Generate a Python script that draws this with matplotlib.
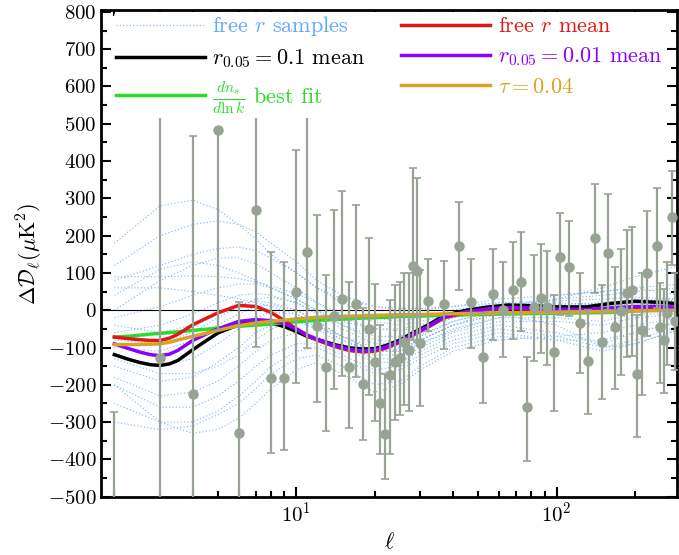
import numpy as np
import matplotlib
matplotlib.use("Agg")
import matplotlib.pyplot as plt
from matplotlib.ticker import MultipleLocator

plt.rcParams['font.family'] = 'serif'
plt.rcParams['font.serif'] = ['cmr10']
plt.rcParams['mathtext.fontset'] = 'cm'
plt.rcParams['axes.formatter.use_mathtext'] = True

# binned data points: ell, value, upper end of bar, lower end of bar
ell_data = [2, 3, 4, 5, 6, 7, 8, 9, 10, 11, 12, 13, 14, 15, 16, 17, 18, 19, 20,
            21, 22, 23, 24, 25, 26, 27, 28, 29, 30, 32, 37, 42, 47, 52, 57, 62,
            68, 73, 77, 82, 87, 92, 98, 103, 112, 123, 132, 141, 150, 158, 168,
            177, 187, 195, 203, 213, 222, 242, 250, 258, 266, 278, 286]
dl_data = [-700, -127, -224, 482, -329, 270, -181, -181, 50, 157, -43, -153, -15,
           31, -151, 17, -197, -50, -140, -249, -331, -174, -139, -128, -84, -106,
           119, 104, -88, 24, 17, 171, 22, -126, 43, 1, 53, 77, -260, 9, 34, 9,
           -113, 143, 116, -33, -135, 193, -84, 153, -46, -3, 46, 55, -170, -54,
           101, 171, -46, -79, -8, 249, -30]
dl_top = [-272, 650, 468, 482, 23, 700, 157, 130, 430, 600, 256, 95, 269, 321, 77,
          283, 7, 194, 71, -39, -170, 28, 68, 77, 101, 100, 381, 355, 109, 137,
          131, 290, 137, -8, 165, 128, 182, 209, -125, 149, 178, 158, 42, 261,
          238, 101, 1, 339, 68, 312, 116, 165, 216, 222, -12, 100, 267, 327, 73,
          57, 130, 372, 100]
dl_bot = [-1130, -770, -916, -52, -681, -98, -382, -374, -195, -101, -247, -325,
          -211, -176, -316, -180, -347, -228, -298, -385, -453, -385, -294, -280,
          -253, -271, -79, -84, -256, -57, -104, 55, -101, -249, -81, -125, -77,
          -57, -403, -137, -115, -146, -271, -12, -15, -167, -278, 46, -238, 0,
          -211, -173, -125, -122, -340, -226, -70, 6, -195, -222, -146, 120, -160]

# model curves
ell_model = [2, 2.25, 2.5, 2.75, 3, 3.25, 3.5, 4, 4.5, 5, 6, 7, 8, 9, 10, 11, 12,
             14, 16, 18, 20, 22, 25, 28, 32, 37, 45, 55, 65, 80, 100, 130, 160,
             200, 250, 300]
free_r_mean = [-72, -76, -79, -81, -81, -75, -65, -39, -22, -7, 13, 10, -6, -28,
               -50, -68, -80, -97, -108, -112, -110, -102, -86, -67, -46, -20, -6,
               2, 5, 3, 0, -1, 4, 8, 7, 5]
r01_mean = [-119, -131, -140, -146, -148, -144, -135, -106, -82, -61, -39, -30,
            -34, -44, -57, -70, -78, -92, -101, -104, -103, -95, -80, -61, -40,
            -14, 0, 9, 14, 12, 9, 9, 18, 24, 21, 17]
r001_mean = [-90, -102, -112, -119, -122, -118, -108, -81, -64, -50, -30, -25,
             -28, -36, -50, -66, -78, -95, -105, -109, -107, -99, -84, -65, -44,
             -18, -4, 4, 7, 6, 3, 2, 6, 10, 10, 8]
running_fit = [-72, -70, -67, -64, -62, -60, -58, -54, -51, -48, -43, -40, -37,
               -34, -31, -29, -27, -25, -23, -21, -20, -19, -17, -16, -15, -13,
               -12, -11, -10, -9, -8, -7, -6, -2, 4, 10]
tau_004 = [-92, -92, -92, -91, -90, -86, -80, -70, -62, -54, -41, -34, -30, -27,
           -23, -21, -19, -17, -16, -15, -14, -13, -12, -12, -11, -10, -9, -8,
           -7, -6, -5, -4, -3, -2, -1, 0]

# free r samples
ell_samp = [2, 3, 4, 5, 6, 7, 8, 10, 12, 15, 20, 25, 30, 40, 60, 100, 150, 200, 300]
samples = [
    [180, 280, 295, 270, 230, 190, 150, 100, 60, 30, 10, 5, 5, 10, 20, 15, 20, 25, 20],
    [120, 200, 230, 240, 230, 210, 180, 130, 80, 40, 10, 0, 0, 10, 30, 40, 50, 60, 40],
    [80, 120, 150, 165, 170, 160, 140, 100, 60, 20, -20, -30, -20, 0, 20, 25, 30, 35, 30],
    [40, 110, 130, 120, 100, 80, 60, 30, 0, -30, -50, -50, -40, -20, 0, 10, 20, 30, 20],
    [90, 90, 92, 90, 85, 75, 65, 45, 20, -10, -30, -40, -30, -10, 10, 20, 15, 30, 25],
    [-20, 10, 40, 60, 70, 70, 60, 30, 0, -40, -70, -70, -50, -20, 0, 10, 10, 20, 10],
    [-60, -40, -10, 20, 40, 45, 40, 20, -10, -50, -90, -90, -70, -30, 0, 0, 5, 20, 10],
    [-100, -110, -80, -40, -10, 10, 15, 0, -30, -70, -110, -110, -80, -40, -10, -5, 0, 10, 0],
    [-120, -150, -130, -90, -50, -20, -5, -10, -40, -80, -120, -120, -90, -50, -20, -20, -30, -10, -10],
    [-150, -190, -180, -140, -100, -60, -40, -30, -50, -90, -130, -130, -100, -60, -30, -30, -40, -20, -10],
    [-180, -230, -220, -190, -150, -110, -80, -60, -70, -100, -140, -140, -110, -70, -40, -60, -90, -60, -30],
    [-200, -260, -260, -230, -190, -150, -120, -90, -90, -120, -160, -150, -120, -80, -50, -70, -100, -80, -40],
    [-250, -300, -300, -270, -230, -190, -150, -110, -100, -130, -170, -160, -130, -90, -60, -80, -110, -90, -50],
    [-300, -320, -310, -280, -250, -210, -170, -130, -120, -150, -200, -190, -150, -100, -70, -80, -80, -60, -30],
    [-200, -300, -330, -320, -290, -250, -210, -160, -140, -170, -220, -200, -160, -110, -80, -70, -60, -40, -20],
    [0, 80, 120, 140, 140, 125, 100, 60, 20, -20, -50, -55, -45, -20, 10, 30, 40, 50, 60],
    [-80, -90, -60, -20, 10, 30, 35, 20, -5, -40, -80, -85, -65, -30, 0, 30, 60, 90, 120],
    [-40, -60, -40, -10, 15, 25, 20, 0, -30, -70, -100, -100, -80, -40, -10, -40, -100, -90, -50],
    [60, 60, 50, 40, 30, 20, 10, -10, -40, -80, -110, -105, -80, -40, 0, 40, 50, 60, 70],
    [-130, -170, -170, -150, -120, -80, -50, -30, -40, -70, -110, -110, -90, -55, -20, 0, 10, 20, 30],
]

samp_color = '#62a8ff'
point_color = '#97a393'

fig = plt.figure(figsize=(6.79, 5.55), dpi=100)
ax = fig.add_axes([0.149, 0.105, 0.848, 0.877])

for i, s in enumerate(samples):
    ax.plot(ell_samp, s, ls=(0, (1, 2)), lw=0.8, color=samp_color, alpha=0.85, zorder=1,
            label='free $r$ samples' if i == 0 else None)

ax.axhline(0, color='black', lw=0.8, zorder=1)

ax.plot(ell_model, r01_mean, color='black', lw=2.5, zorder=2, label=r'$r_{0.05}=0.1$ mean')
ax.plot(ell_model, running_fit, color='#2bdb2b', lw=2.5, zorder=2,
        label=r'$\frac{dn_s}{d\ln k}$ best fit')
ax.plot(ell_model, free_r_mean, color='#e01818', lw=2.5, zorder=2, label='free $r$ mean')
ax.plot(ell_model, r001_mean, color='#8c00ff', lw=2.5, zorder=2, label=r'$r_{0.05}=0.01$ mean')
ax.plot(ell_model, tau_004, color='#dba220', lw=2.5, zorder=2, label=r'$\tau=0.04$')

dl = np.array(dl_data)
yerr = [dl - np.array(dl_bot), np.array(dl_top) - dl]
ax.errorbar(ell_data, dl, yerr=yerr, fmt='o', color=point_color, ms=6.5, elinewidth=1.6,
            capsize=3, capthick=1.2, zorder=3)

ax.set_xscale('log')
ax.set_xlim(1.78, 290)
ax.set_ylim(-500, 805)
ax.yaxis.set_major_locator(MultipleLocator(100))
ax.yaxis.set_minor_locator(MultipleLocator(50))
ax.tick_params(which='both', direction='in', top=True, right=True, labelsize=15, width=1.5)
ax.tick_params(which='major', length=7)
ax.tick_params(which='minor', length=4)
for sp in ax.spines.values():
    sp.set_linewidth(2)

ax.set_xlabel(r'$\ell$', fontsize=16)
ax.set_ylabel(r'$\Delta\mathcal{D}_\ell(\mu{\rm K}^2)$', fontsize=16, labelpad=2)

leg = ax.legend(ncol=2, loc='upper center', fontsize=16, handlelength=4.0,
                handletextpad=0.35, columnspacing=1.6, framealpha=1, edgecolor='none',
                facecolor='white', borderaxespad=0.1, labelspacing=0.4, borderpad=0.1,
                labelcolor=[samp_color, 'black', '#2bdb2b', '#e01818', '#8c00ff', '#dba220'])
leg.set_zorder(5)

fig.savefig('out.png', dpi=100)
